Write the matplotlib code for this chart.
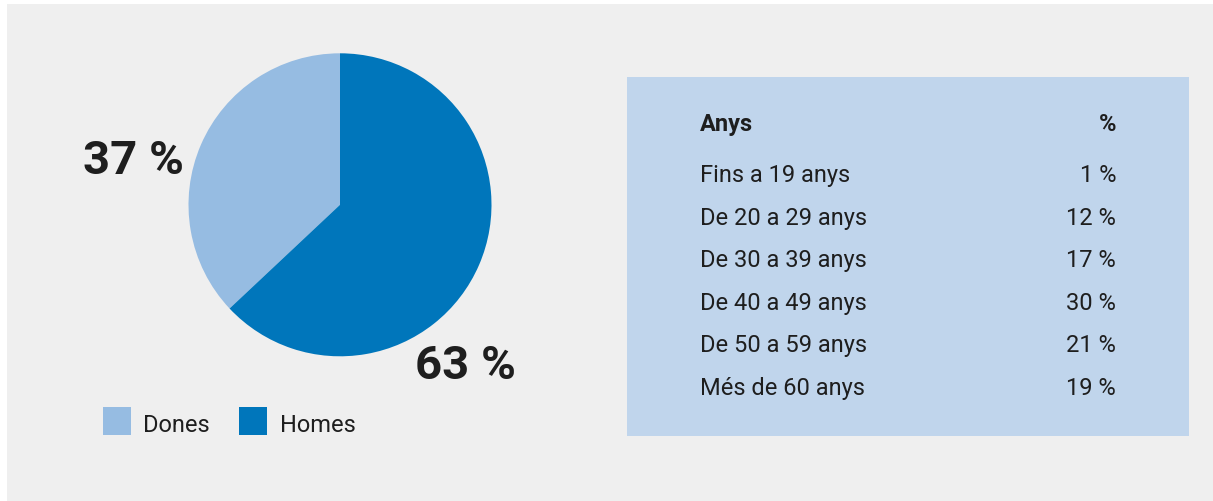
import matplotlib
matplotlib.use("Agg")
import matplotlib.pyplot as plt
from matplotlib.patches import Rectangle

# Data
sex_labels = ["Dones", "Homes"]
sex_values = [37, 63]
sex_colors = ["#96bce2", "#0076bb"]

age_header = ["Anys", "%"]
age_groups = ["Fins a 19 anys", "De 20 a 29 anys", "De 30 a 39 anys",
              "De 40 a 49 anys", "De 50 a 59 anys", "Més de 60 anys"]
age_values = [1, 12, 17, 30, 21, 19]

W, H = 1213, 502
plt.rcParams["font.family"] = ["Roboto", "DejaVu Sans"]
TEXT = "#1e1e1e"

fig = plt.figure(figsize=(W / 100, H / 100), dpi=100)
fig.patch.set_facecolor("white")


def px(x, y):
    return x / W, 1 - y / H


# panel backgrounds
bg = Rectangle(px(7, H), (W - 7) / W, (H - 5) / H, transform=fig.transFigure,
               facecolor="#efefef", edgecolor="none", zorder=0)
fig.patches.append(bg)
tbl = Rectangle(px(627, 437), (1189 - 627) / W, (437 - 78) / H,
                transform=fig.transFigure, facecolor="#c0d5ec",
                edgecolor="none", zorder=1)
fig.patches.append(tbl)

# pie
cx, cy, r = 340, 205.8, 151.5
ax = fig.add_axes([(cx - r) / W, (H - cy - r) / H, 2 * r / W, 2 * r / H])
ax.set_zorder(5)
ax.patch.set_visible(False)
ax.pie(sex_values, colors=sex_colors, startangle=90, counterclock=True,
       radius=1, wedgeprops=dict(linewidth=0))
ax.set_xlim(-1, 1)
ax.set_ylim(-1, 1)
ax.set_axis_off()

# percentage labels
fig.text(*px(83, 174), f"{sex_values[0]} %", fontsize=34, fontweight="bold",
         color=TEXT, ha="left", va="baseline", zorder=6)
fig.text(*px(415, 379), f"{sex_values[1]} %", fontsize=34, fontweight="bold",
         color=TEXT, ha="left", va="baseline", zorder=6)

# legend
for (sx, tx), lab, col in zip([(103, 143), (239, 280)], sex_labels, sex_colors):
    fig.patches.append(Rectangle(px(sx, 436), 28 / W, 28 / H,
                                 transform=fig.transFigure, facecolor=col,
                                 edgecolor="none", zorder=2))
    fig.text(*px(tx, 432), lab, fontsize=17, color=TEXT, ha="left",
             va="baseline", zorder=3)

# age table
fig.text(*px(700, 131), age_header[0], fontsize=17, fontweight="bold",
         color=TEXT, ha="left", va="baseline", zorder=3)
fig.text(*px(1116, 131), age_header[1], fontsize=17, fontweight="bold",
         color=TEXT, ha="right", va="baseline", zorder=3)
y0, dy = 182, 42.6
for i, (g, v) in enumerate(zip(age_groups, age_values)):
    y = y0 + i * dy
    fig.text(*px(700, y), g, fontsize=17, color=TEXT, ha="left",
             va="baseline", zorder=3)
    fig.text(*px(1116, y), f"{v} %", fontsize=17, color=TEXT, ha="right",
             va="baseline", zorder=3)

fig.savefig("out.png", dpi=100)
